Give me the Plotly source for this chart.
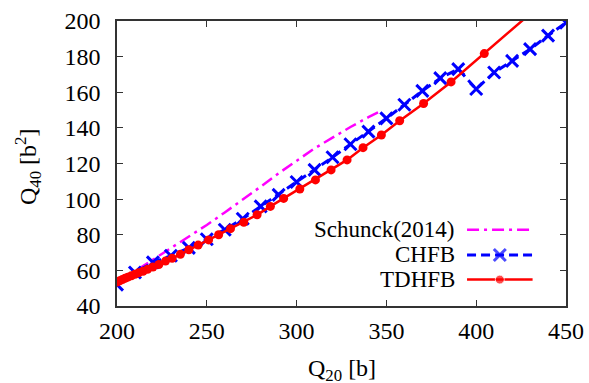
import plotly.graph_objects as go

# ---------------- data ----------------
schunck_q20 = [200, 210, 220, 230, 240, 250, 260, 270, 280, 290, 300, 310, 320, 330, 340, 346]
schunck_q40 = [53.0, 59.5, 66.0, 72.5, 79.0, 85.5, 92.5, 99.5, 107.0, 114.5, 121.5, 128.5, 134.5, 140.5, 146.0, 149.0]

chfb_q20 = [200, 210, 220, 230, 240, 250, 260, 270, 280, 290, 300, 310, 320,
            330, 340, 350, 360, 370, 380, 390, 400, 410, 420, 430, 440, 450]
chfb_q40 = [52.0, 58.8, 64.5, 68.2, 72.6, 77.5, 82.8, 89.0, 95.9, 102.4, 109.6, 116.4, 123.5,
            130.8, 137.9, 145.3, 153.0, 160.8, 167.9, 173.0, 161.8, 171.1, 177.6, 184.2, 191.8, 199.1]

tdhfb_q20 = [200, 201.5, 203, 204.5, 206, 208, 210, 212, 214.5, 217, 220, 223.3, 227, 230.7,
             235.3, 240, 245.2, 251, 256.6, 263.2, 270.6, 278, 285.4, 292.8, 301.8, 310.5,
             319.2, 328.1, 337, 347.2, 357.4, 370.7, 386, 404.5, 430]
tdhfb_q40 = [53.5, 54.2, 54.9, 55.6, 56.2, 57.0, 57.8, 58.6, 59.5, 60.6, 61.9, 63.3, 65.2, 66.8,
             69.0, 71.6, 74.2, 77.1, 80.0, 83.4, 87.0, 91.2, 95.9, 100.4, 105.7, 110.8,
             116.4, 122.0, 128.9, 136.0, 144.0, 153.7, 165.8, 181.7, 204.0]

legend_labels = ["Schunck(2014)", "CHFB", "TDHFB"]
x_title = "Q<sub>20</sub> [b]"
y_title = "Q<sub>40</sub> [b<sup>2</sup>]"

x_ticks = [200, 250, 300, 350, 400, 450]
y_ticks = [40, 60, 80, 100, 120, 140, 160, 180, 200]

# ---------------- style ----------------
FONT = "Liberation Serif, Times New Roman, serif"
FS = 24
FS_KEY = 23
MAGENTA = "#ff00ff"
BLUE = "#0000ff"
RED = "#ff0000"
AXC = "#333333"

MAG_LINE = dict(color=MAGENTA, width=2.5, dash="12px,5px,3px,5px")
BLUE_LINE = dict(color=BLUE, width=3, dash="9px,5px")
RED_LINE = dict(color=RED, width=2.5)
BLUE_MK = dict(symbol="x-thin", size=12, line=dict(color=BLUE, width=3))
RED_MK = dict(symbol="circle", size=9, color=RED)

fig = go.Figure()

fig.add_trace(go.Scatter(x=schunck_q20, y=schunck_q40, mode="lines",
                         line=MAG_LINE, showlegend=False, hoverinfo="skip"))
fig.add_trace(go.Scatter(x=chfb_q20, y=chfb_q40, mode="lines+markers",
                         line=BLUE_LINE, marker=BLUE_MK, showlegend=False, hoverinfo="skip"))
fig.add_trace(go.Scatter(x=tdhfb_q20, y=tdhfb_q40, mode="lines+markers",
                         line=RED_LINE, marker=RED_MK, showlegend=False, hoverinfo="skip"))

# ---------------- manual gnuplot-style key (text left, sample right) ----------------
key_rows = [0.2677, 0.1791, 0.0927]
key_text_x = 0.757
key_x0, key_x1 = 0.7796, 0.9256
key_styles = [(MAG_LINE, None), (BLUE_LINE, BLUE_MK), (RED_LINE, RED_MK)]
for label, yy, (ln, mk) in zip(legend_labels, key_rows, key_styles):
    if mk is not None:
        m = dict(mk)
        m["size"] = [0, mk["size"], 0]
        fig.add_trace(go.Scatter(x=[key_x0, (key_x0 + key_x1) / 2, key_x1], y=[yy, yy, yy],
                                 xaxis="x2", yaxis="y2", mode="lines+markers", line=ln, marker=m,
                                 showlegend=False, hoverinfo="skip"))
    else:
        fig.add_trace(go.Scatter(x=[key_x0, key_x1], y=[yy, yy], xaxis="x2", yaxis="y2",
                                 mode="lines", line=ln, showlegend=False, hoverinfo="skip"))
    fig.add_annotation(x=key_text_x, y=yy, xref="paper", yref="paper", text=label,
                       showarrow=False, xanchor="right", yanchor="middle",
                       font=dict(family=FONT, size=FS_KEY, color="black"))

# axis titles as annotations (fixed positions, like gnuplot)
fig.add_annotation(x=0.5, y=-0.164, xref="paper", yref="paper", text=x_title,
                   showarrow=False, xanchor="center", yanchor="top",
                   font=dict(family=FONT, size=FS, color="black"))
fig.add_annotation(x=-0.198, y=0.488, xref="paper", yref="paper", text=y_title,
                   showarrow=False, xanchor="center", yanchor="middle", textangle=-90,
                   font=dict(family=FONT, size=FS, color="black"))

axis_common = dict(showline=True, linecolor=AXC, linewidth=1.5, mirror="ticks",
                   ticks="inside", ticklen=6, tickwidth=1.2, tickcolor=AXC,
                   showgrid=False, zeroline=False, automargin=False,
                   tickfont=dict(family=FONT, size=FS, color="black"))

fig.update_layout(
    width=589, height=383,
    margin=dict(l=116.5, r=23.3, t=20.7, b=76.5),
    paper_bgcolor="white", plot_bgcolor="white",
    showlegend=False,
    font=dict(family=FONT, size=FS, color="black"),
    xaxis=dict(range=[200, 450], tickvals=x_ticks, ticklabelstandoff=2, **axis_common),
    yaxis=dict(range=[40, 200], tickvals=y_ticks, ticklabelstandoff=10, **axis_common),
    xaxis2=dict(overlaying="x", range=[0, 1], visible=False, fixedrange=True),
    yaxis2=dict(overlaying="y", range=[0, 1], visible=False, fixedrange=True),
)

fig.write_html("out.html")
